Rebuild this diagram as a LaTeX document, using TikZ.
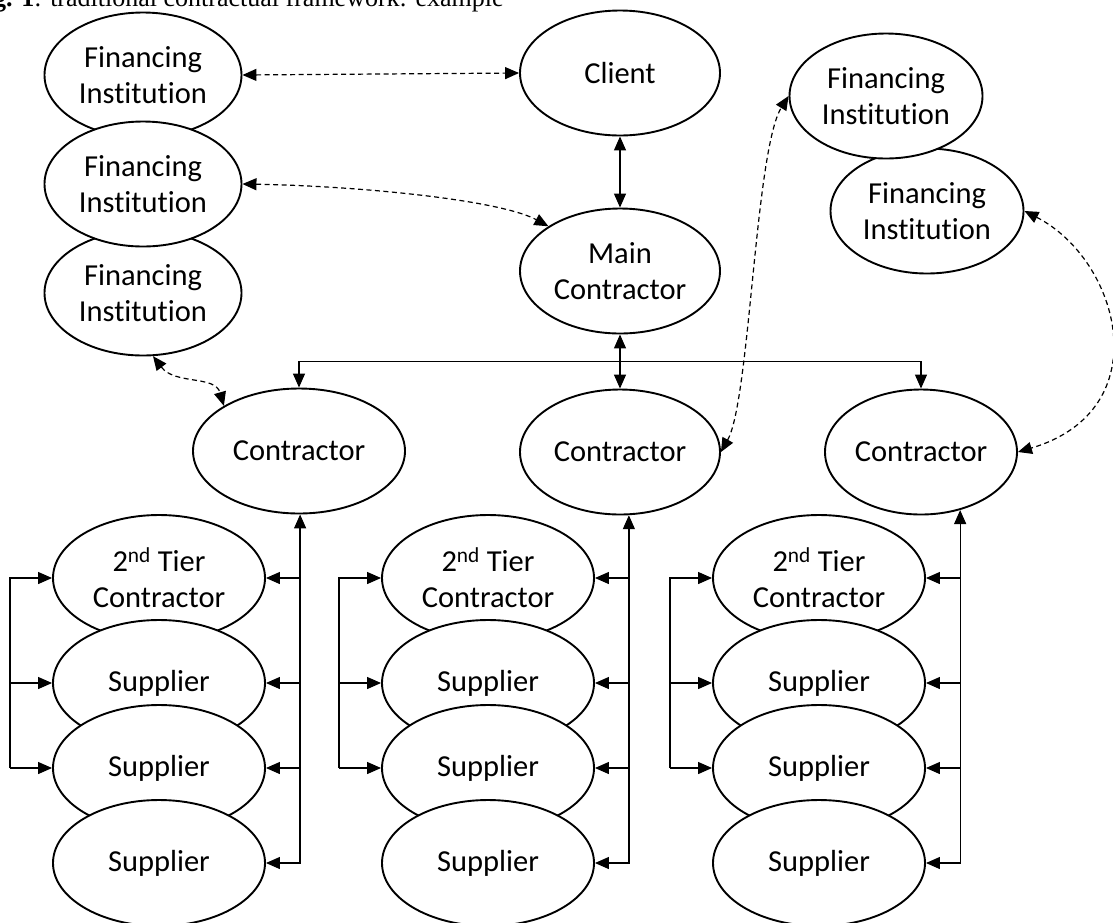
\documentclass[tikz,border=0pt]{standalone}
\usepackage{fontspec}
\setmainfont{Carlito}[Ligatures=NoCommon]
\newfontfamily\capfont{Liberation Serif}
\usetikzlibrary{shapes.geometric,arrows.meta,calc}

\begin{document}
\begin{tikzpicture}[x=1pt,y=-1pt,
  ent/.style={ellipse,draw,line width=1.9pt,fill=white,inner sep=0pt,align=center,
    minimum height=125pt,font=\fontsize{30.5}{36}\selectfont},
  link/.style={line width=1.3pt},
  dlink/.style={line width=1.2pt,dash pattern=on 5pt off 3.5pt},
  tipboth/.style={{Triangle[length=14pt,width=12pt]}-{Triangle[length=14pt,width=12pt]}},
  tipend/.style={-{Triangle[length=14pt,width=12pt]}},
]
\path[use as bounding box] (0,0) rectangle (1113,922);
\clip (0,0) rectangle (1113,922);

% caption
\node[anchor=base west,inner sep=0pt,font=\capfont\fontsize{26}{30}\selectfont] (cap) at (-7,6)
  {\textbf{g. 1}: traditional contractual framework: example};

% financing institutions, left stack
\node[ent,minimum width=197pt] (fia) at (143,75) {Financing\\Institution};
\node[ent,minimum width=197pt] (fic) at (143,293) {Financing\\Institution};
\node[ent,minimum width=197pt] (fib) at (143,184) {Financing\\Institution};

% client and main contractor
\node[ent,minimum width=200pt] (client) at (620,73) {Client};
\node[ent,minimum width=200pt] (main) at (620,271) {Main\\Contractor};

% financing institutions, right stack
\node[ent,minimum width=193pt] (frb) at (927,211) {Financing\\Institution};
\node[ent,minimum width=193pt] (fra) at (886,96) {Financing\\Institution};

% contractors
\node[ent,minimum width=212pt] (cl) at (299,451) {Contractor};
\node[ent,minimum width=200pt] (cm) at (620,452) {Contractor};
\node[ent,minimum width=192pt] (cr) at (921,452) {Contractor};

% sub-contracting columns
\foreach \k/\cx/\ct/\an in {l/159/cl/-89, m/488/cm/-82, r/819/cr/-56}{
  \node[ent,minimum width=212pt,minimum height=126pt] (t\k) at (\cx,578) {2\textsuperscript{nd} Tier\\Contractor};
  \node[ent,minimum width=212pt,minimum height=126pt] (sa\k) at (\cx,683) {Supplier};
  \node[ent,minimum width=212pt,minimum height=126pt] (sb\k) at (\cx,768) {Supplier};
  \node[ent,minimum width=212pt,minimum height=126pt] (sc\k) at (\cx,863) {Supplier};
  % contractor to its own chain
  \draw[link,tipboth] (\ct.\an) |- (sc\k.east);
  \draw[link,tipend] (\ct.\an |- t\k.east) -- (t\k.east);
  \draw[link,tipend] (\ct.\an |- sa\k.east) -- (sa\k.east);
  \draw[link,tipend] (\ct.\an |- sb\k.east) -- (sb\k.east);
  % links among the lower tier
  \draw[link,tipend] ($(sb\k.west)+(-42,0)$) |- (t\k.west);
  \draw[link,tipend] ($(sb\k.west)+(-42,0)$) -- (sb\k.west);
  \draw[link,tipend] ($(sa\k.west)+(-42,0)$) -- (sa\k.west);
}

% contractual chain
\draw[link,tipboth] (client) -- (main);
\draw[link,tipboth] (main) -- (cm);
\coordinate (bus) at ($(main.south)!0.5!(cm.north)$);
\draw[link,tipend] (bus) -| (cl.north);
\draw[link,tipend] (bus) -| (cr.north);

% financing relations
\draw[dlink,tipboth] (fia.east) -- (client.west);
\draw[dlink,tipboth] (fib.east) .. controls (360,186) and (500,200) .. (main.148);
\draw[dlink,tipboth] (fic.-81) .. controls (175,385) and (215,375) .. (cl.149);
\draw[dlink,tipboth] (cm.east) .. controls (750,400) and (755,150) .. (fra.west);
\draw[dlink,tipboth] (frb.east) .. controls (1120,260) and (1160,410) .. (cr.east);
\end{tikzpicture}
\end{document}
